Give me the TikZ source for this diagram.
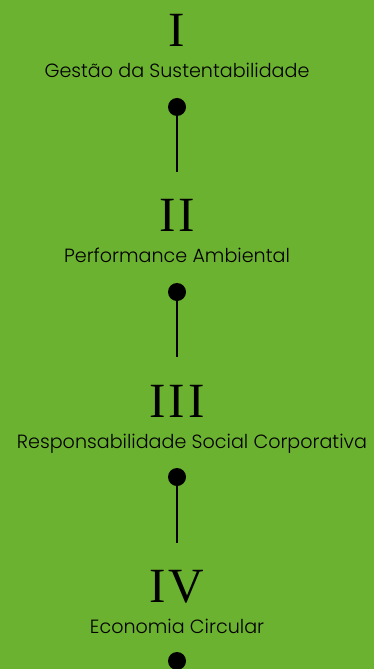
\documentclass[tikz,border=0pt]{standalone}
\usepackage{fontspec}
\setmainfont{Poppins}[UprightFont=* Light]
\newfontfamily\numeralfont[LetterSpace=6]{Liberation Serif}
\usepackage{xcolor}
\usepackage{tikz}
\usetikzlibrary{positioning}
\definecolor{leafgreen}{HTML}{6CB231}

\begin{document}
\begin{tikzpicture}[
    x=0.025cm, y=-0.025cm,
    numeral/.style={anchor=base, inner sep=0pt, font=\numeralfont\fontsize{35}{40}\selectfont},
    caption/.style={anchor=base, inner sep=0pt, font=\fontsize{13.6}{16}\selectfont},
    pin/.style={circle, fill=black, minimum size=0.45cm, inner sep=0pt},
    stem/.style={line width=1.9pt, black},
]
\fill[leafgreen] (0,0) rectangle (374,669);
\useasboundingbox (0,0) rectangle (374,669);
% Stage I
\node[numeral] (num1) at (177,47) {I};
\node[caption] (cap1) at (177,78) {Gestão da Sustentabilidade};
\node[pin] (pin1) at (177,107) {};
\coordinate (end1) at (177,172);
\draw[stem] (pin1) -- (end1);
% Stage II
\node[numeral] (num2) at (177,232) {II};
\node[caption] (cap2) at (177,263) {Performance Ambiental};
\node[pin] (pin2) at (177,292) {};
\coordinate (end2) at (177,357);
\draw[stem] (pin2) -- (end2);
% Stage III
\node[numeral] (num3) at (177,417) {III};
\node[caption] (cap3) at (192,448) {Responsabilidade Social Corporativa};
\node[pin] (pin3) at (177,477) {};
\coordinate (end3) at (177,543);
\draw[stem] (pin3) -- (end3);
% Stage IV
\node[numeral] (num4) at (177,602) {IV};
\node[caption] (cap4) at (177,633) {Economia Circular};
\node[pin] (pin4) at (177,661) {};
\end{tikzpicture}
\end{document}
